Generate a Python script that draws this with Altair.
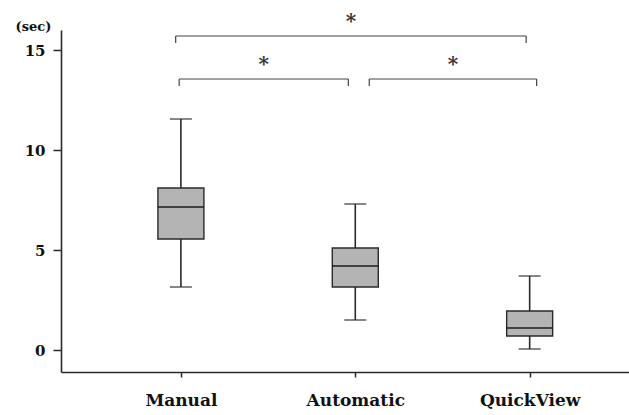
import altair as alt
import pandas as pd

groups = ["Manual", "Automatic", "QuickView"]
lower = [3.15, 1.5, 0.05]
q1 = [5.55, 3.15, 0.7]
median = [7.15, 4.2, 1.1]
q3 = [8.1, 5.1, 1.95]
upper = [11.55, 7.3, 3.7]

# significance brackets (x in category index units, y in seconds)
br_x1 = [-0.03, -0.01, 1.08]
br_x2 = [1.98, 0.96, 2.04]
br_y = [15.7, 13.55, 13.55]
br_label = ["*", "*", "*"]

box = pd.DataFrame({
    "idx": list(range(len(groups))),
    "group": groups,
    "lower": lower, "q1": q1, "median": median, "q3": q3, "upper": upper,
})
br = pd.DataFrame({"x1": br_x1, "x2": br_x2, "y": br_y, "label": br_label})

label_expr = "[" + ",".join("'%s'" % g for g in groups) + "][datum.value]"

xscale = alt.Scale(domain=[-0.659, 2.541], nice=False, zero=False)
yscale = alt.Scale(domain=[-1.1, 16], nice=False, zero=False)

FONT = "DejaVu Serif"
DARK = "#2a2a2a"

xenc = alt.X("idx:Q", scale=xscale, axis=alt.Axis(
    values=[0, 1, 2], labelExpr=label_expr, title=None, grid=False,
    labelFont=FONT, labelFontWeight="bold", labelFontSize=17, labelColor="#111",
    labelPadding=15, tickSize=5, tickColor=DARK, domainColor=DARK, domainWidth=1.6,
    tickWidth=1.5))
yenc = alt.Y("lower:Q", scale=yscale, axis=alt.Axis(
    values=[0, 5, 10, 15], title="(sec)", titleAngle=0, titleAlign="center",
    titleBaseline="middle", titleX=-28, titleY=-4, titleFont=FONT,
    titleFontWeight="bold", titleFontSize=13, titleColor="#111",
    grid=False, labelFont=FONT, labelFontWeight="bold", labelFontSize=15,
    labelColor="#111", labelPadding=8, tickSize=8, tickColor=DARK,
    domainColor=DARK, domainWidth=1.6, tickWidth=1.5))

base = alt.Chart(box)

whisker = base.mark_rule(color=DARK, strokeWidth=1.6).encode(
    x=xenc, y=yenc, y2="upper:Q")
boxes = base.mark_bar(size=46, color="#b4b4b4", stroke=DARK, strokeWidth=1.4,
                      orient="vertical").encode(
    x="idx:Q", y="q1:Q", y2="q3:Q")
med = base.mark_tick(orient="horizontal", size=46, thickness=2.2, color="#111").encode(
    x="idx:Q", y="median:Q")
cap_lo = base.mark_tick(orient="horizontal", size=22, thickness=1.6, color=DARK).encode(
    x="idx:Q", y="lower:Q")
cap_hi = base.mark_tick(orient="horizontal", size=22, thickness=1.6, color=DARK).encode(
    x="idx:Q", y="upper:Q")

bbase = alt.Chart(br).transform_calculate(
    ydrop="datum.y - 0.35", xm="(datum.x1 + datum.x2) / 2")
hline = bbase.mark_rule(color="#444", strokeWidth=1.2).encode(
    x="x1:Q", x2="x2:Q", y="y:Q")
lv = bbase.mark_rule(color="#444", strokeWidth=1.2).encode(
    x="x1:Q", y="y:Q", y2="ydrop:Q")
rv = bbase.mark_rule(color="#444", strokeWidth=1.2).encode(
    x="x2:Q", y="y:Q", y2="ydrop:Q")
stars = bbase.mark_text(font=FONT, fontSize=20, fontWeight="bold", color="#333",
                        baseline="middle", dy=-14).encode(
    x="xm:Q", y="y:Q", text="label:N")

chart = alt.layer(whisker, boxes, med, cap_lo, cap_hi, hline, lv, rv, stars).properties(
    width=568, height=342,
    autosize=alt.AutoSizeParams(type="none"),
    padding={"left": 61, "top": 30, "right": 0, "bottom": 43},
    background="white",
).configure_view(stroke=None)

chart.save("out.html", embed_options={"renderer": "svg", "actions": False})
